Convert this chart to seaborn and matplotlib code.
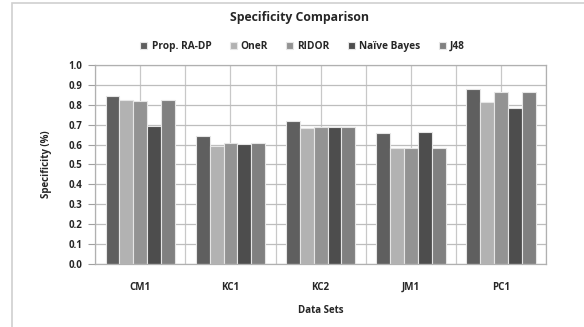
import matplotlib
matplotlib.use("Agg")
import matplotlib.pyplot as plt
import seaborn as sns
import pandas as pd
from matplotlib.patches import Rectangle
from matplotlib.ticker import FixedLocator

datasets = ["CM1", "KC1", "KC2", "JM1", "PC1"]
methods = ["Prop. RA-DP", "OneR", "RIDOR", "Naïve Bayes", "J48"]
prop_ra_dp = [0.845, 0.643, 0.717, 0.660, 0.878]
one_r = [0.825, 0.591, 0.682, 0.581, 0.812]
ridor = [0.820, 0.606, 0.687, 0.581, 0.863]
naive_bayes = [0.695, 0.601, 0.687, 0.663, 0.786]
j48 = [0.825, 0.606, 0.687, 0.581, 0.863]
colors = ["#5f5f5f", "#b2b2b2", "#939393", "#4d4d4d", "#808080"]

series = [prop_ra_dp, one_r, ridor, naive_bayes, j48]
df = pd.DataFrame(
    [(d, m, v) for m, vals in zip(methods, series) for d, v in zip(datasets, vals)],
    columns=["Data Sets", "Method", "Specificity"],
)

sns.set_theme(style="white")
plt.rcParams["font.family"] = ["Open Sans", "DejaVu Sans"]

fig = plt.figure(figsize=(5.84, 3.27), dpi=100)
ax = fig.add_axes([0.163, 0.193, 0.772, 0.608])

sns.barplot(
    data=df, x="Data Sets", y="Specificity", hue="Method",
    order=datasets, hue_order=methods, palette=colors,
    width=0.77, edgecolor="#e6e6e6", linewidth=0.8, saturation=1,
    ax=ax, legend=True,
)

ax.set_ylim(0, 1.0)
ax.set_xlim(-0.5, 4.5)
ax.set_yticks([i / 10 for i in range(11)])
ax.set_yticklabels([f"{i / 10:.1f}" for i in range(11)], fontsize=7, fontweight="bold")
ax.xaxis.set_minor_locator(FixedLocator([-0.5, 0.5, 1.5, 2.5, 3.5, 4.5]))
ax.set_xticks(range(len(datasets)))
ax.set_xticklabels(datasets, fontsize=7, fontweight="bold")
ax.tick_params(axis="x", which="both", length=0, pad=13)
ax.tick_params(axis="y", length=5, color="#a0a0a0", width=0.8, pad=4, direction="out", left=True)

ax.grid(True, axis="y", color="#bdbdbd", linewidth=0.9)
ax.grid(True, axis="x", which="both", color="#c8c8c8", linewidth=0.9)
ax.set_axisbelow(True)
for side, sp in ax.spines.items():
    sp.set_color("#b0b0b0")
    sp.set_linewidth(0.9)

ax.set_xlabel("Data Sets", fontsize=7, fontweight="bold", labelpad=9)
ax.set_ylabel("Specificity (%)", fontsize=7, fontweight="bold", labelpad=12)

handles, labels = ax.get_legend_handles_labels()
ax.legend(
    handles, labels, ncol=5, frameon=False, loc="center",
    bbox_to_anchor=(0.518, 0.859), bbox_transform=fig.transFigure,
    prop={"weight": "bold", "size": 7.3},
    handlelength=0.7, handleheight=0.7, handletextpad=0.4, columnspacing=1.8,
)

fig.text(0.513, 0.945, "Specificity Comparison", ha="center", va="center",
         fontsize=8.8, fontweight="bold")

# light frame around the chart area
fig.patches.append(Rectangle((12 / 584, -0.1), 1.2, 1.09, transform=fig.transFigure,
                             fill=False, edgecolor="#d0d0d0", linewidth=1.2))

fig.savefig("out.png", dpi=100)
